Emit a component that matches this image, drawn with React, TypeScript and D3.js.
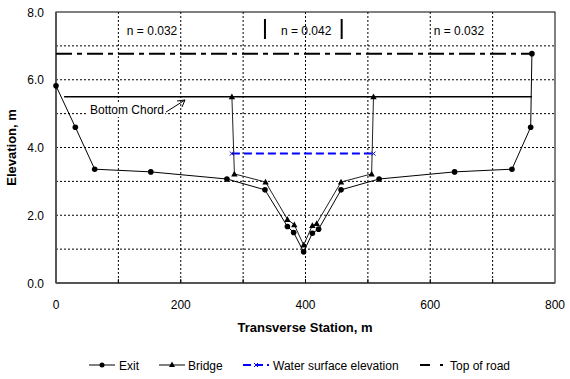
import React from "react";
import * as d3 from "d3";

const exitStation = [0, 31, 62, 152, 274, 335, 371, 381, 397, 411, 421, 457, 518, 639, 731, 761, 763];
const exitElev = [5.82, 4.6, 3.36, 3.28, 3.07, 2.75, 1.67, 1.49, 0.92, 1.47, 1.59, 2.75, 3.07, 3.28, 3.36, 4.6, 6.77];

const bridgeStation = [282, 286, 336, 371, 382, 397, 411, 418, 457, 506, 509];
const bridgeElev = [5.5, 3.22, 2.98, 1.88, 1.72, 1.12, 1.7, 1.76, 2.98, 3.22, 5.5];

const wseStation = [282, 509];
const wseElev = [3.82, 3.82];

const roadStation = [0, 763];
const roadElev = [6.77, 6.77];

const chordStation = [13, 763];
const chordElev = [5.5, 5.5];

const xTicks = [0, 200, 400, 600, 800];
const xGrid = [100, 200, 300, 400, 500, 600, 700];
const yTicks = [0, 2, 4, 6, 8];
const yGrid = [1, 2, 3, 4, 5, 6, 7];

const nLabels = [
  { station: 154, text: "n = 0.032" },
  { station: 401, text: "n = 0.042" },
  { station: 646, text: "n = 0.032" },
];
const nBars = [335, 458];

const legendItems = ["Exit", "Bridge", "Water surface elevation", "Top of road"];

const W = 570;
const H = 379;
const FONT = "'Liberation Sans', Arial, sans-serif";

export default function App() {
  const x = d3.scaleLinear().domain([0, 800]).range([56, 555]);
  const y = d3.scaleLinear().domain([0, 8]).range([283, 12]);
  const line = d3
    .line<[number, number]>()
    .x((d) => x(d[0]))
    .y((d) => y(d[1]));

  const zip = (a: number[], b: number[]) => a.map((v, i) => [v, b[i]] as [number, number]);
  const exitPts = zip(exitStation, exitElev);
  const bridgePts = zip(bridgeStation, bridgeElev);
  const wsePts = zip(wseStation, wseElev);
  const roadPts = zip(roadStation, roadElev);
  const chordPts = zip(chordStation, chordElev);

  const tri = (cx: number, cy: number, s = 3.2) =>
    `M${cx},${cy - s} L${cx + s},${cy + s * 0.8} L${cx - s},${cy + s * 0.8} Z`;

  const x0 = x(0), x1 = x(800), y0 = y(0), y1 = y(8);

  const legY = 365;
  const legX = [89, 159, 243, 420];
  const legText = [119, 188, 273, 450];

  return (
    <svg
      width={W}
      height={H}
      style={{ position: "absolute", left: 0, top: 0, background: "#fff" }}
      fontFamily={FONT}
    >
      <rect x={0} y={0} width={W} height={H} fill="#fff" />
      {/* grid */}
      {xGrid.map((v) => (
        <line key={"gx" + v} x1={x(v)} x2={x(v)} y1={y1} y2={y0} stroke="#000" strokeWidth={1} strokeDasharray="2,2" />
      ))}
      {yGrid.map((v) => (
        <line key={"gy" + v} x1={x0} x2={x1} y1={y(v)} y2={y(v)} stroke="#000" strokeWidth={1} strokeDasharray="2,2" />
      ))}
      {/* frame */}
      <rect x={x0} y={y1} width={x1 - x0} height={y0 - y1} fill="none" stroke="#000" strokeWidth={1} />
      <line x1={x0} x2={x1} y1={y0} y2={y0} stroke="#555" strokeWidth={2} />
      <line x1={x0} x2={x0} y1={y1} y2={y0} stroke="#555" strokeWidth={2} />
      {/* x ticks inside */}
      {xGrid.map((v) => (
        <line key={"tx" + v} x1={x(v)} x2={x(v)} y1={y0} y2={y0 - 4} stroke="#000" strokeWidth={1} />
      ))}
      {/* tick labels */}
      {xTicks.map((v) => (
        <text key={"lx" + v} x={x(v)} y={309} fontSize={12} textAnchor="middle" fill="#000">
          {v}
        </text>
      ))}
      {yTicks.map((v) => (
        <text key={"ly" + v} x={44} y={y(v) + 4.5} fontSize={12} textAnchor="end" fill="#000">
          {d3.format(".1f")(v)}
        </text>
      ))}
      {/* axis titles */}
      <text x={305} y={332} fontSize={13} fontWeight="bold" textAnchor="middle">
        Transverse Station, m
      </text>
      <text
        transform={`translate(16,${(y0 + y1) / 2}) rotate(-90)`}
        fontSize={13}
        fontWeight="bold"
        textAnchor="middle"
      >
        Elevation, m
      </text>

      {/* top of road */}
      <path d={line(roadPts) || ""} fill="none" stroke="#000" strokeWidth={2} strokeDasharray="16,5,5,5" />
      {/* bottom chord */}
      <path d={line(chordPts) || ""} fill="none" stroke="#000" strokeWidth={1.5} />
      {/* water surface */}
      <path d={line(wsePts) || ""} fill="none" stroke="#0000ff" strokeWidth={2} strokeDasharray="8,4" />
      {wsePts.map((p, i) => (
        <g key={"wx" + i} stroke="#0000ff" strokeWidth={1}>
          <line x1={x(p[0]) - 2} x2={x(p[0]) + 2} y1={y(p[1]) - 2} y2={y(p[1]) + 2} />
          <line x1={x(p[0]) - 2} x2={x(p[0]) + 2} y1={y(p[1]) + 2} y2={y(p[1]) - 2} />
        </g>
      ))}
      {/* bridge */}
      <path d={line(bridgePts) || ""} fill="none" stroke="#222" strokeWidth={1} />
      {bridgePts.map((p, i) => (
        <path key={"bt" + i} d={tri(x(p[0]), y(p[1]))} fill="#000" />
      ))}
      {/* exit */}
      <path d={line(exitPts) || ""} fill="none" stroke="#000" strokeWidth={1} />
      {exitPts.map((p, i) => (
        <circle key={"ec" + i} cx={x(p[0])} cy={y(p[1])} r={2.8} fill="#000" />
      ))}

      {/* annotations */}
      <rect x={88} y={103} width={77} height={14} fill="#fff" />
      <text x={90} y={114} fontSize={12}>
        Bottom Chord
      </text>
      <line x1={166} y1={112} x2={185} y2={100} stroke="#000" strokeWidth={1} />
      <path d="M185,100 L177,101 M185,100 L182,107" stroke="#000" strokeWidth={1} fill="none" />

      {nLabels.map((n, i) => (
        <text key={"n" + i} x={x(n.station)} y={35} fontSize={12} textAnchor="middle">
          {n.text}
        </text>
      ))}
      {nBars.map((s, i) => (
        <line key={"nb" + i} x1={x(s)} x2={x(s)} y1={19} y2={39} stroke="#000" strokeWidth={2} />
      ))}

      {/* legend */}
      {legendItems.map((t, i) => (
        <text key={"lt" + i} x={legText[i]} y={legY + 4.5} fontSize={12}>
          {t}
        </text>
      ))}
      <line x1={legX[0]} x2={legX[0] + 26} y1={legY} y2={legY} stroke="#000" strokeWidth={1} />
      <circle cx={legX[0] + 13} cy={legY} r={2.5} fill="#000" />
      <line x1={legX[1]} x2={legX[1] + 26} y1={legY} y2={legY} stroke="#000" strokeWidth={1} />
      <path d={tri(legX[1] + 13, legY - 0.5, 3)} fill="#000" />
      <line x1={legX[2]} x2={legX[2] + 26} y1={legY} y2={legY} stroke="#0000ff" strokeWidth={2} strokeDasharray="8,4" />
      <g stroke="#0000ff" strokeWidth={1}>
        <line x1={legX[2] + 11} x2={legX[2] + 15} y1={legY - 2} y2={legY + 2} />
        <line x1={legX[2] + 11} x2={legX[2] + 15} y1={legY + 2} y2={legY - 2} />
      </g>
      <line x1={legX[3]} x2={legX[3] + 10} y1={legY} y2={legY} stroke="#000" strokeWidth={2} />
      <line x1={legX[3] + 20} x2={legX[3] + 23} y1={legY} y2={legY} stroke="#000" strokeWidth={2} />
    </svg>
  );
}
